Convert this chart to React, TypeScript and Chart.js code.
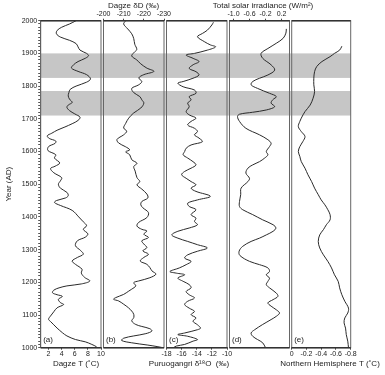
import React, { useEffect, useRef } from 'react';
import { Chart, registerables } from 'chart.js';

Chart.register(...registerables);
Chart.defaults.font.family = "'Liberation Sans', Arial, sans-serif";
Chart.defaults.color = '#222';

// ---------------- data ----------------
const yearMin = 1000;
const yearMax = 2000;
const yearLabelEvery = 100;
const bands: [number, number][] = [[1710, 1785], [1825, 1900]];

// (a) Dagze T (°C)  [year, value]
const dagzeT: [number, number][] = [
  [2000, 6.2], [1990, 5.2], [1980, 4.0], [1970, 3.3], [1960, 3.2], [1950, 3.8], [1940, 5.2], [1930, 6.2],
  [1920, 6.5], [1910, 6.8], [1900, 7.8], [1893, 8.1], [1885, 7.6], [1875, 6.5], [1865, 5.8], [1855, 5.5],
  [1845, 6.5], [1835, 7.8], [1822, 8.4], [1812, 7.8], [1800, 6.2], [1790, 5.3], [1780, 5.1], [1770, 5.0],
  [1760, 5.2], [1750, 5.6], [1742, 5.0], [1735, 4.8], [1725, 5.2], [1715, 6.0], [1705, 6.8], [1695, 6.5],
  [1685, 5.6], [1675, 4.5], [1665, 3.3], [1656, 2.5], [1648, 1.8], [1640, 2.1], [1632, 3.1], [1625, 3.0],
  [1615, 2.0], [1603, 1.9], [1590, 3.1], [1580, 2.9], [1565, 3.7], [1555, 3.0], [1548, 2.3], [1535, 2.8],
  [1520, 4.0], [1510, 3.8], [1500, 3.5], [1488, 3.8], [1475, 4.8], [1465, 5.0], [1458, 4.6], [1450, 3.2],
  [1444, 2.9], [1435, 3.8], [1420, 5.6], [1400, 6.6], [1385, 7.3], [1373, 7.8], [1362, 7.3], [1348, 8.0],
  [1338, 7.6], [1327, 6.4], [1312, 6.1], [1297, 6.9], [1286, 7.3], [1276, 6.4], [1265, 5.6], [1255, 6.1],
  [1240, 7.1], [1228, 7.0], [1215, 7.5], [1204, 8.3], [1195, 7.0], [1189, 4.8], [1183, 3.6], [1176, 2.8],
  [1168, 2.6], [1162, 3.3], [1157, 4.1], [1148, 3.5], [1138, 3.8], [1132, 4.3], [1122, 3.3], [1110, 2.8],
  [1097, 2.3], [1087, 2.0], [1080, 2.3], [1070, 2.8], [1060, 3.3], [1046, 4.1], [1036, 4.8], [1025, 6.1],
  [1018, 7.6], [1010, 8.6], [1003, 9.3], [1000, 9.4],
];

// (b) Dagze δD (‰)
const dagzeDD: [number, number][] = [
  [2000, -211], [1990, -210], [1975, -212], [1960, -214], [1945, -215], [1928, -215.5], [1912, -216.5],
  [1902, -215], [1892, -214], [1880, -216.5], [1868, -218.5], [1855, -221.5], [1845, -225], [1835, -220],
  [1825, -217.5], [1814, -219], [1804, -217.5], [1793, -214], [1780, -215], [1768, -218], [1758, -219],
  [1748, -220], [1733, -218.5], [1718, -215], [1702, -212.5], [1686, -211], [1672, -210], [1662, -211.5],
  [1651, -210], [1637, -206.7], [1626, -207.5], [1615, -210.8], [1605, -213], [1599, -211], [1590, -213],
  [1575, -214], [1564, -216.6], [1554, -215], [1540, -215.7], [1520, -216.6], [1508, -218], [1498, -216.6],
  [1485, -219], [1470, -221.5], [1458, -222], [1447, -219], [1437, -218.5], [1428, -219.5], [1413, -222.3],
  [1398, -221.5], [1383, -217.4], [1372, -216.6], [1362, -219], [1357, -221.5], [1347, -220], [1337, -222.3],
  [1327, -219], [1317, -220], [1306, -221.5], [1296, -219.5], [1286, -222.3], [1276, -220], [1265, -218.2],
  [1255, -221.5], [1245, -223], [1235, -224], [1225, -226], [1214, -223], [1204, -217.4], [1199, -215],
  [1189, -216], [1179, -214], [1173, -212.5], [1163, -210], [1153, -206], [1148, -205], [1143, -207.5],
  [1133, -210], [1122, -212.4], [1112, -214], [1102, -215], [1092, -215], [1082, -214], [1071, -216],
  [1065, -219], [1058, -223], [1051, -224], [1043, -221], [1036, -215], [1029, -210], [1022, -209],
  [1015, -214], [1008, -222], [1003, -227], [1000, -229.5],
];

// (c) Puruogangri δ18O (‰)
const puruO18: [number, number][] = [
  [1995, -11.8], [1987, -12.0], [1971, -12.6], [1961, -13.25], [1951, -13.9], [1936, -13.0], [1926, -12.2],
  [1920, -11.5], [1910, -12.6], [1900, -14.3], [1895, -15.4], [1885, -14.5], [1875, -13.7], [1865, -14.5],
  [1854, -15.0], [1844, -14.1], [1834, -13.7], [1824, -14.5], [1814, -15.8], [1809, -16.5], [1798, -15.8],
  [1788, -14.3], [1778, -14.1], [1768, -15.0], [1758, -14.75], [1748, -15.2], [1737, -15.0], [1722, -15.4],
  [1712, -15.0], [1702, -14.1], [1692, -14.75], [1681, -15.2], [1671, -14.3], [1661, -13.9], [1651, -14.3],
  [1641, -13.7], [1630, -13.25], [1620, -14.75], [1610, -15.4], [1600, -15.6], [1590, -15.8], [1580, -15.2],
  [1569, -14.5], [1559, -14.1], [1549, -14.75], [1539, -15.6], [1529, -16.0], [1518, -15.4], [1508, -14.75],
  [1498, -14.1], [1488, -14.75], [1478, -14.1], [1463, -12.2], [1452, -13.9], [1442, -15.2], [1432, -15.0],
  [1422, -14.1], [1407, -14.75], [1396, -14.1], [1386, -14.3], [1376, -13.9], [1366, -15.0], [1356, -16.5],
  [1345, -17.3], [1335, -16.5], [1325, -15.2], [1315, -13.9], [1305, -12.6], [1295, -13.9], [1284, -15.2],
  [1274, -15.6], [1264, -14.75], [1254, -15.4], [1244, -16.3], [1233, -17.55], [1228, -16.7], [1223, -15.6],
  [1213, -16.5], [1203, -15.8], [1193, -15.0], [1183, -14.75], [1172, -15.4], [1162, -15.0], [1152, -14.3],
  [1142, -15.2], [1132, -15.6], [1121, -15.0], [1111, -14.3], [1101, -14.75], [1091, -14.1], [1081, -14.5],
  [1070, -13.9], [1060, -13.5], [1055, -13.9], [1045, -15.6], [1040, -16.5], [1035, -15.2], [1025, -13.9],
  [1020, -14.5], [1010, -15.6], [1005, -16.7], [1000, -17.1],
];

// (d) Total solar irradiance (W/m²)
const solarTSI: [number, number][] = [
  [1975, 0.32], [1962, 0.31], [1946, 0.24], [1931, 0.07], [1915, -0.14], [1900, -0.31], [1885, -0.27],
  [1865, -0.06], [1849, 0.03], [1834, -0.14], [1824, -0.35], [1814, -0.52], [1804, -0.56], [1793, -0.4],
  [1778, -0.1], [1768, 0.07], [1758, -0.02], [1748, -0.06], [1737, 0.03], [1727, -0.18], [1720, -0.52],
  [1714, -0.85], [1707, -0.9], [1692, -0.85], [1671, -0.69], [1651, -0.35], [1636, -0.14], [1625, -0.06],
  [1615, -0.1], [1600, -0.18], [1590, -0.14], [1580, -0.22], [1569, -0.35], [1559, -0.52], [1549, -0.64],
  [1534, -0.69], [1518, -0.6], [1508, -0.64], [1488, -0.81], [1468, -0.82], [1447, -0.85], [1432, -0.85],
  [1422, -0.77], [1407, -0.52], [1391, -0.27], [1376, -0.01], [1366, 0.06], [1356, -0.01], [1345, -0.18],
  [1335, -0.35], [1325, -0.56], [1310, -0.77], [1295, -0.86], [1282, -0.84], [1264, -0.6], [1254, -0.35],
  [1244, -0.14], [1233, -0.1], [1223, -0.18], [1213, -0.1], [1203, -0.14], [1193, -0.18], [1183, -0.1],
  [1167, 0.07], [1157, 0.11], [1147, -0.01], [1137, -0.14], [1127, -0.06], [1116, 0.07], [1106, 0.15],
  [1096, 0.07], [1086, -0.06], [1071, -0.27], [1055, -0.47], [1045, -0.56], [1035, -0.52], [1025, -0.4],
  [1015, -0.27], [1000, -0.2],
];

// (e) Northern Hemisphere T (°C)
const nhT: [number, number][] = [
  [1922, -0.68], [1910, -0.65], [1900, -0.58], [1890, -0.52], [1875, -0.41], [1860, -0.34], [1844, -0.31],
  [1824, -0.30], [1804, -0.30], [1783, -0.31], [1763, -0.29], [1742, -0.25], [1722, -0.18], [1702, -0.13],
  [1692, -0.11], [1676, -0.09], [1661, -0.13], [1646, -0.18], [1630, -0.15], [1615, -0.11], [1600, -0.09],
  [1585, -0.11], [1569, -0.13], [1549, -0.18], [1529, -0.22], [1508, -0.27], [1488, -0.31], [1468, -0.36],
  [1452, -0.40], [1437, -0.45], [1422, -0.49], [1407, -0.52], [1391, -0.52], [1376, -0.47], [1361, -0.43],
  [1345, -0.38], [1325, -0.36], [1305, -0.38], [1284, -0.43], [1264, -0.49], [1244, -0.54], [1223, -0.58],
  [1203, -0.63], [1183, -0.65], [1162, -0.68], [1142, -0.72], [1121, -0.77], [1106, -0.76], [1091, -0.72],
  [1076, -0.71], [1060, -0.73], [1040, -0.74], [1020, -0.76], [1000, -0.77],
];

const ticksA = [2, 4, 6, 8, 10];
const ticksB = [-200, -210, -220, -230];
const ticksC = [-18, -16, -14, -12, -10];
const ticksD = [-1.0, -0.6, -0.2, 0.2];
const ticksE = [0, -0.2, -0.4, -0.6, -0.8];
const labelsD = ['-1.0', '-0.6', '-0.2', '0.2'];

// ---------------- layout ----------------
const W = 385;
const H = 375;
const AREA_TOP = 20.7;
const AREA_BOTTOM = 347.7;
const FONT = "'Liberation Sans', Arial, sans-serif";

interface PanelCfg {
  key: string;
  tag: string;
  data: [number, number][];
  left: number;
  right: number;
  bandRight: number;
  min: number;
  max: number;
  reverse: boolean;
  ticks: number[];
  tickLabels?: string[];
  axisPos: 'top' | 'bottom';
  title: string;
  titleX: number;
  showY: boolean;
}

const panels: PanelCfg[] = [
  { key: 'a', tag: '(a)', data: dagzeT, left: 40.7, right: 101, bandRight: 103.5, min: 0.8, max: 10, reverse: false, ticks: ticksA, axisPos: 'bottom', title: 'Dagze T (˚C)', titleX: 76, showY: true },
  { key: 'b', tag: '(b)', data: dagzeDD, left: 103.5, right: 164, bandRight: 166.5, min: -230, max: -200, reverse: true, ticks: ticksB, axisPos: 'top', title: 'Dagze δD (‰)', titleX: 133.5, showY: false },
  { key: 'c', tag: '(c)', data: puruO18, left: 166.5, right: 227, bandRight: 229.5, min: -18, max: -10, reverse: false, ticks: ticksC, axisPos: 'bottom', title: 'Puruogangri δ¹⁸O  (‰)', titleX: 189, showY: false },
  { key: 'd', tag: '(d)', data: solarTSI, left: 229.5, right: 289.5, bandRight: 291.7, min: -1.1, max: 0.4, reverse: false, ticks: ticksD, tickLabels: labelsD, axisPos: 'top', title: 'Total solar irradiance (W/m²)', titleX: 263, showY: false },
  { key: 'e', tag: '(e)', data: nhT, left: 291.7, right: 350.7, bandRight: 350.7, min: -0.8, max: 0, reverse: true, ticks: ticksE, axisPos: 'bottom', title: 'Northern Hemisphere T (˚C)', titleX: 330, showY: false },
];

const decoPlugin = (cfg: PanelCfg) => ({
  id: 'deco',
  beforeDatasetsDraw(chart: any) {
    const { ctx, chartArea, scales } = chart;
    const y = scales.y;
    ctx.save();
    ctx.fillStyle = '#c6c6c6';
    for (const [a, b] of bands) {
      const y1 = y.getPixelForValue(b);
      const y2 = y.getPixelForValue(a);
      ctx.fillRect(chartArea.left, y1, cfg.bandRight - chartArea.left, y2 - y1);
    }
    ctx.restore();
  },
  afterDraw(chart: any) {
    const { ctx, chartArea } = chart;
    const { left, right, top, bottom } = chartArea;
    ctx.save();
    ctx.strokeStyle = '#666';
    ctx.lineWidth = 1;
    ctx.strokeRect(left, top, right - left, bottom - top);
    ctx.strokeStyle = '#333';
    ctx.lineWidth = 1.6;
    ctx.beginPath();
    ctx.moveTo(left, top);
    ctx.lineTo(right, top);
    ctx.moveTo(left, bottom);
    ctx.lineTo(right, bottom);
    ctx.stroke();
    ctx.fillStyle = '#222';
    ctx.font = `8px ${FONT}`;
    ctx.textBaseline = 'middle';
    ctx.textAlign = 'left';
    ctx.fillText(cfg.tag, left + 2.5, bottom - 8);
    // axis title
    ctx.textAlign = 'center';
    ctx.fillText(cfg.title, cfg.titleX, cfg.axisPos === 'top' ? 6 : 363.5);
    ctx.restore();
  },
});

function Panel({ cfg }: { cfg: PanelCfg }) {
  const ref = useRef<HTMLCanvasElement>(null);
  useEffect(() => {
    const isTop = cfg.axisPos === 'top';
    const yTicks: { value: number }[] = [];
    for (let v = yearMin; v <= yearMax; v += 10) yTicks.push({ value: v });
    const chart = new Chart(ref.current as HTMLCanvasElement, {
      type: 'scatter',
      data: {
        datasets: [
          {
            data: cfg.data.map(([yr, v]) => ({ x: v, y: yr })),
            showLine: true,
            borderColor: '#2a2a2a',
            borderWidth: 1,
            pointRadius: 0,
            tension: 0.35,
            fill: false,
          },
        ],
      },
      options: {
        animation: false,
        responsive: false,
        devicePixelRatio: 1,
        layout: {
          padding: {
            left: cfg.showY ? 0 : cfg.left,
            right: W - cfg.right,
            top: isTop ? 0 : AREA_TOP,
            bottom: isTop ? H - AREA_BOTTOM : 0,
          },
        },
        plugins: { legend: { display: false }, tooltip: { enabled: false } },
        events: [],
        scales: {
          x: {
            type: 'linear',
            position: cfg.axisPos,
            min: cfg.min,
            max: cfg.max,
            reverse: cfg.reverse,
            afterBuildTicks: (s: any) => {
              s.ticks = cfg.ticks.map((v) => ({ value: v }));
            },
            afterFit: (s: any) => {
              s.height = isTop ? AREA_TOP : H - AREA_BOTTOM;
            },
            ticks: {
              autoSkip: false,
              maxRotation: 0,
              padding: 0,
              font: { size: 7 },
              color: '#222',
              callback: (v: any, i: number) => (cfg.tickLabels ? cfg.tickLabels[i] : String(v)),
            },
            grid: { drawOnChartArea: false, drawTicks: true, tickLength: 2, color: '#444' },
            border: { display: true, color: '#444' },
            title: { display: false },
          },
          y: {
            type: 'linear',
            display: cfg.showY,
            position: 'left',
            min: yearMin,
            max: yearMax,
            afterBuildTicks: (s: any) => {
              s.ticks = yTicks.map((t) => ({ value: t.value }));
            },
            afterFit: (s: any) => {
              s.width = cfg.showY ? cfg.left : 0;
            },
            ticks: {
              autoSkip: false,
              padding: 1,
              font: { size: 7 },
              color: '#222',
              callback: (v: any) => (Number(v) % yearLabelEvery === 0 ? String(v) : ''),
            },
            grid: { drawOnChartArea: false, drawTicks: true, tickLength: 2.5, color: '#555' },
            border: { display: true, color: '#444' },
            title: {
              display: true,
              text: 'Year (AD)',
              font: { size: 8 },
              color: '#222',
              padding: { top: 4, bottom: 2 },
            },
          },
        },
      },
      plugins: [decoPlugin(cfg)],
    } as any);
    return () => chart.destroy();
  }, [cfg]);
  return (
    <canvas
      ref={ref}
      width={W}
      height={H}
      style={{ position: 'absolute', left: 0, top: 0, width: W, height: H }}
    />
  );
}

export default function App() {
  return (
    <div style={{ position: 'fixed', left: 0, top: 0, width: W, height: H, background: '#fff' }}>
      {panels.map((p) => (
        <Panel key={p.key} cfg={p} />
      ))}
    </div>
  );
}
